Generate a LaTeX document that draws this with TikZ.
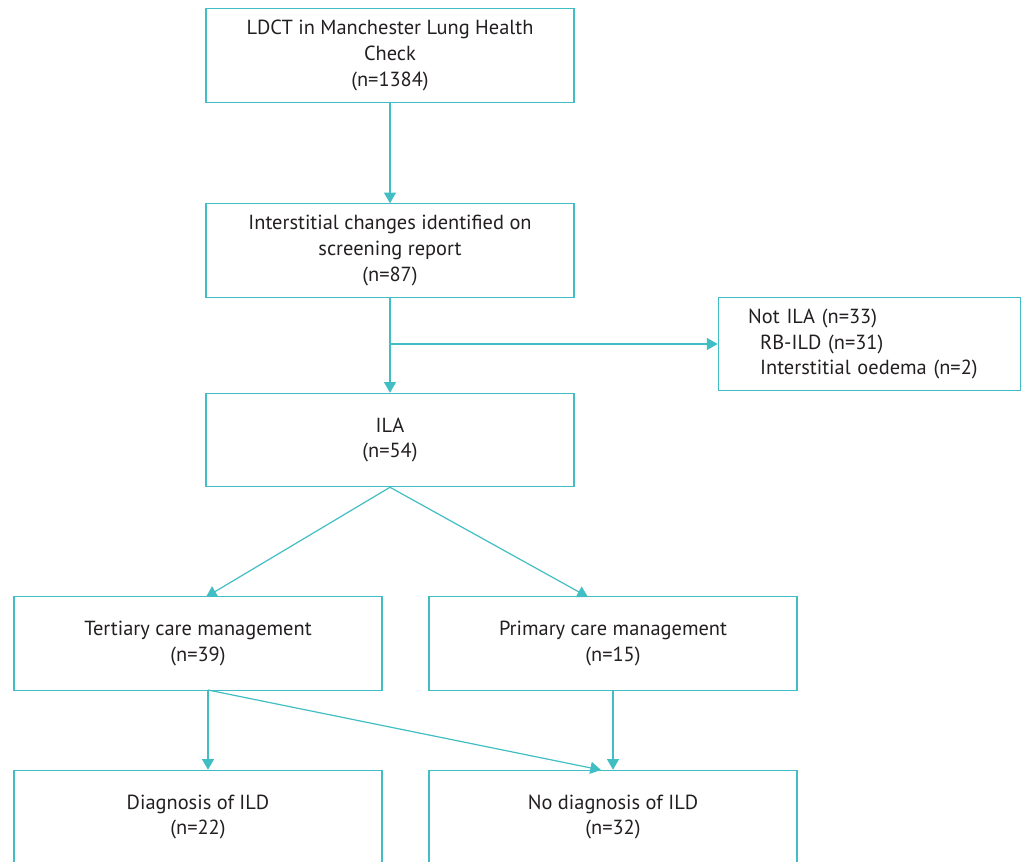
\documentclass[tikz,border=0pt]{standalone}
\usepackage{fontspec}
\setmainfont{PT Sans}
\usetikzlibrary{arrows.meta}
\definecolor{flowline}{RGB}{64,190,196}
\definecolor{flowtext}{RGB}{35,31,32}
\begin{document}
\begin{tikzpicture}[x=0.75pt,y=-0.75pt,
			>={Triangle[length=8pt,width=9pt]},
			box node/.style={draw=flowline,line width=0.9pt,minimum width=276pt,minimum height=70pt,
				align=center,text=flowtext,font=\fontsize{15.3pt}{19.2pt}\selectfont,inner sep=0pt},
			side node/.style={box node,minimum width=227pt,text width=182pt,inner xsep=22.5pt,align=left},
			flow/.style={->,draw=flowline,line width=0.9pt}
			]
			
			\useasboundingbox (0,0) rectangle (1023,862);
			
			\def \cx {390};
			
			\node[box node] (ldct) at (\cx,55.5) {LDCT in Manchester Lung Health\\Check\\(n=1384)};
			\node[box node] (screen) at (\cx,250.5) {Interstitial changes identified on\\screening report\\(n=87)};
			\node[side node] (notila) at (869.5,344) {Not ILA (n=33)\\\hspace{9pt}RB-ILD (n=31)\\\hspace{9pt}Interstitial oedema (n=2)};
			\node[box node] (ila) at (\cx,440) {ILA\\(n=54)};
			\node[box node] (tert) at (198,643.5) {Tertiary care management\\(n=39)};
			\node[box node] (prim) at (613,643.5) {Primary care management\\(n=15)};
			\node[box node] (diag) at (198,817) {Diagnosis of ILD\\(n=22)};
			\node[box node] (nodiag) at (613,817) {No diagnosis of ILD\\(n=32)};
			
			\coordinate (split) at (\cx,344);
			\coordinate (tertout) at (208,690);
			
			\draw[flow] (ldct) -- (screen);
			\draw[flow] (screen) -- (ila);
			\draw[flow] (split) -- (notila.west |- split);
			\draw[flow] (ila.south) -- (206,597);
			\draw[flow] (ila.south) -- (588,597);
			\draw[flow] (tertout) -- (diag.north -| tertout);
			\draw[flow] (tertout) -- (601,770);
			\draw[flow] (prim) -- (nodiag);
			
			\end{tikzpicture}
\end{document}
